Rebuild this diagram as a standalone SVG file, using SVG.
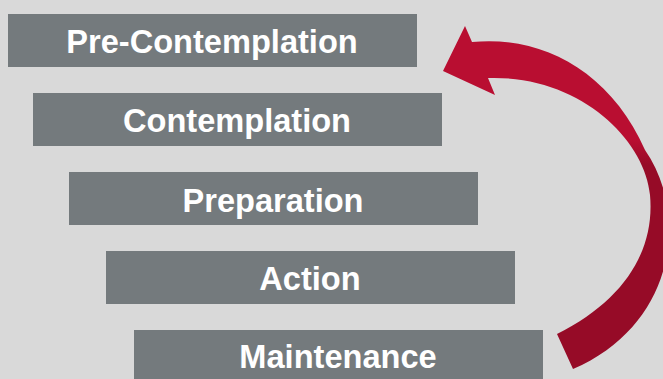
<svg xmlns="http://www.w3.org/2000/svg" width="663" height="379" viewBox="0 0 663 379">
<defs>
<style>
.box{fill:#747a7d}
.lbl{font-family:"Liberation Sans",Arial,sans-serif;font-weight:bold;font-size:32.6px;fill:#ffffff;text-anchor:middle}
</style>
<linearGradient id="arrowGrad" gradientUnits="userSpaceOnUse" x1="0" y1="140" x2="0" y2="165">
<stop offset="0" stop-color="#b90e31"/>
<stop offset="1" stop-color="#960b27"/>
</linearGradient>
</defs>
<rect width="663" height="379" fill="#d9d9d9"/>
<g id="connectors">
<path d="M 472,42 C 540,35 610,70 645,150 C 690,215 675,325 573,369 L 557,334 C 625,300 655,250 650,195 C 645,140 580,75 488,78 L 495,95 L 443,71 L 465,26 Z" fill="url(#arrowGrad)"/>
</g>
<g id="node-precontemplation">
<rect class="box" x="8" y="14" width="409" height="53"/>
<text class="lbl" x="212" y="53.3">Pre-Contemplation</text>
</g>
<g id="node-contemplation">
<rect class="box" x="33" y="93" width="409" height="53"/>
<text class="lbl" x="237" y="131.5">Contemplation</text>
</g>
<g id="node-preparation">
<rect class="box" x="69" y="172" width="409" height="53"/>
<text class="lbl" x="273" y="211.5">Preparation</text>
</g>
<g id="node-action">
<rect class="box" x="106" y="251" width="409" height="53"/>
<text class="lbl" x="310" y="289.5">Action</text>
</g>
<g id="node-maintenance">
<rect class="box" x="134" y="330" width="409" height="53"/>
<text class="lbl" x="338" y="368">Maintenance</text>
</g>
</svg>
